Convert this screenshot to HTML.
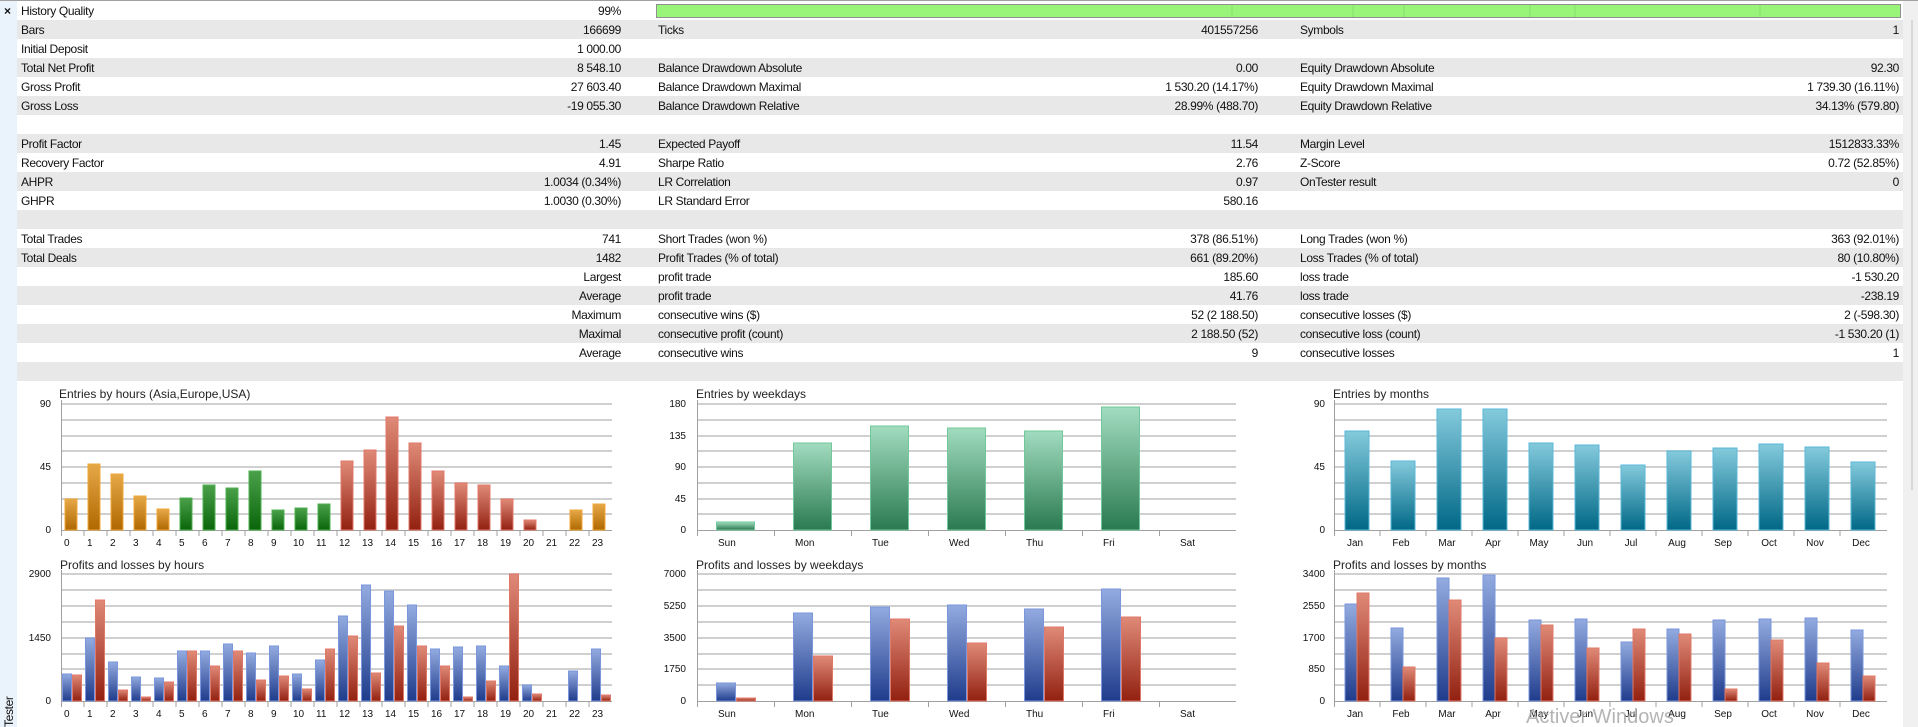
<!DOCTYPE html>
<html><head><meta charset="utf-8"><style>
html,body{margin:0;padding:0;background:#fff;width:1918px;height:727px;overflow:hidden}
svg{display:block}
text{font-family:"Liberation Sans",sans-serif;fill:#111}
.t{font-size:12px;letter-spacing:-0.35px}
.ax{font-size:10px;fill:#333}
.ti{font-size:12px;fill:#222}
</style></head><body>
<svg width="1918" height="727" viewBox="0 0 1918 727" xmlns="http://www.w3.org/2000/svg">
<defs>
<linearGradient id="gO" x1="0" y1="0" x2="0" y2="1"><stop offset="0" stop-color="#e6a848"/><stop offset="1" stop-color="#b06800"/></linearGradient>
<linearGradient id="gG" x1="0" y1="0" x2="0" y2="1"><stop offset="0" stop-color="#4aa04a"/><stop offset="1" stop-color="#0a660a"/></linearGradient>
<linearGradient id="gR" x1="0" y1="0" x2="0" y2="1"><stop offset="0" stop-color="#e08a78"/><stop offset="1" stop-color="#922010"/></linearGradient>
<linearGradient id="gB" x1="0" y1="0" x2="0" y2="1"><stop offset="0" stop-color="#93abe0"/><stop offset="1" stop-color="#1f3c8c"/></linearGradient>
<linearGradient id="gM" x1="0" y1="0" x2="0" y2="1"><stop offset="0" stop-color="#a2dcc0"/><stop offset="1" stop-color="#2a7a50"/></linearGradient>
<linearGradient id="gT" x1="0" y1="0" x2="0" y2="1"><stop offset="0" stop-color="#84cadc"/><stop offset="1" stop-color="#006886"/></linearGradient>
</defs>
<rect x="0" y="0" width="17" height="727" fill="#eaf2fb"/>
<rect x="1903" y="0" width="15" height="727" fill="#f0f0f0"/>
<line x1="1912" y1="20" x2="1912" y2="490" stroke="#c0c0c0"/>
<line x1="0" y1="0.5" x2="1918" y2="0.5" stroke="#a0a0a0"/>
<text x="4" y="15" class="t" style="font-weight:bold">×</text>
<text transform="translate(13,727) rotate(-90)" class="t">Tester</text>
<g fill="#e8e8e8">
<rect x="17" y="20" width="1886" height="19"/><rect x="17" y="58" width="1886" height="19"/><rect x="17" y="96" width="1886" height="19"/>
<rect x="17" y="134" width="1886" height="19"/><rect x="17" y="172" width="1886" height="19"/><rect x="17" y="210" width="1886" height="19"/>
<rect x="17" y="248" width="1886" height="19"/><rect x="17" y="286" width="1886" height="19"/><rect x="17" y="324" width="1886" height="19"/>
<rect x="17" y="362" width="1886" height="19"/>
</g>
<rect x="656.5" y="4.5" width="1244" height="13" fill="#98f57a" stroke="#909090"/>
<g stroke="#86dd6a"><line x1="1232" y1="5" x2="1232" y2="17"/><line x1="1353" y1="5" x2="1353" y2="17"/><line x1="1404" y1="5" x2="1404" y2="17"/><line x1="1530" y1="5" x2="1530" y2="17"/><line x1="1575" y1="5" x2="1575" y2="17"/><line x1="1760" y1="5" x2="1760" y2="17"/></g>
<g class="t">
<text x="21" y="15">History Quality</text><text x="621" y="15" text-anchor="end">99%</text>
<text x="21" y="34">Bars</text><text x="621" y="34" text-anchor="end">166699</text><text x="658" y="34">Ticks</text><text x="1258" y="34" text-anchor="end">401557256</text><text x="1300" y="34">Symbols</text><text x="1899" y="34" text-anchor="end">1</text>
<text x="21" y="53">Initial Deposit</text><text x="621" y="53" text-anchor="end">1 000.00</text>
<text x="21" y="72">Total Net Profit</text><text x="621" y="72" text-anchor="end">8 548.10</text><text x="658" y="72">Balance Drawdown Absolute</text><text x="1258" y="72" text-anchor="end">0.00</text><text x="1300" y="72">Equity Drawdown Absolute</text><text x="1899" y="72" text-anchor="end">92.30</text>
<text x="21" y="91">Gross Profit</text><text x="621" y="91" text-anchor="end">27 603.40</text><text x="658" y="91">Balance Drawdown Maximal</text><text x="1258" y="91" text-anchor="end">1 530.20 (14.17%)</text><text x="1300" y="91">Equity Drawdown Maximal</text><text x="1899" y="91" text-anchor="end">1 739.30 (16.11%)</text>
<text x="21" y="110">Gross Loss</text><text x="621" y="110" text-anchor="end">-19 055.30</text><text x="658" y="110">Balance Drawdown Relative</text><text x="1258" y="110" text-anchor="end">28.99% (488.70)</text><text x="1300" y="110">Equity Drawdown Relative</text><text x="1899" y="110" text-anchor="end">34.13% (579.80)</text>
<text x="21" y="148">Profit Factor</text><text x="621" y="148" text-anchor="end">1.45</text><text x="658" y="148">Expected Payoff</text><text x="1258" y="148" text-anchor="end">11.54</text><text x="1300" y="148">Margin Level</text><text x="1899" y="148" text-anchor="end">1512833.33%</text>
<text x="21" y="167">Recovery Factor</text><text x="621" y="167" text-anchor="end">4.91</text><text x="658" y="167">Sharpe Ratio</text><text x="1258" y="167" text-anchor="end">2.76</text><text x="1300" y="167">Z-Score</text><text x="1899" y="167" text-anchor="end">0.72 (52.85%)</text>
<text x="21" y="186">AHPR</text><text x="621" y="186" text-anchor="end">1.0034 (0.34%)</text><text x="658" y="186">LR Correlation</text><text x="1258" y="186" text-anchor="end">0.97</text><text x="1300" y="186">OnTester result</text><text x="1899" y="186" text-anchor="end">0</text>
<text x="21" y="205">GHPR</text><text x="621" y="205" text-anchor="end">1.0030 (0.30%)</text><text x="658" y="205">LR Standard Error</text><text x="1258" y="205" text-anchor="end">580.16</text>
<text x="21" y="243">Total Trades</text><text x="621" y="243" text-anchor="end">741</text><text x="658" y="243">Short Trades (won %)</text><text x="1258" y="243" text-anchor="end">378 (86.51%)</text><text x="1300" y="243">Long Trades (won %)</text><text x="1899" y="243" text-anchor="end">363 (92.01%)</text>
<text x="21" y="262">Total Deals</text><text x="621" y="262" text-anchor="end">1482</text><text x="658" y="262">Profit Trades (% of total)</text><text x="1258" y="262" text-anchor="end">661 (89.20%)</text><text x="1300" y="262">Loss Trades (% of total)</text><text x="1899" y="262" text-anchor="end">80 (10.80%)</text>
<text x="621" y="281" text-anchor="end">Largest</text><text x="658" y="281">profit trade</text><text x="1258" y="281" text-anchor="end">185.60</text><text x="1300" y="281">loss trade</text><text x="1899" y="281" text-anchor="end">-1 530.20</text>
<text x="621" y="300" text-anchor="end">Average</text><text x="658" y="300">profit trade</text><text x="1258" y="300" text-anchor="end">41.76</text><text x="1300" y="300">loss trade</text><text x="1899" y="300" text-anchor="end">-238.19</text>
<text x="621" y="319" text-anchor="end">Maximum</text><text x="658" y="319">consecutive wins ($)</text><text x="1258" y="319" text-anchor="end">52 (2 188.50)</text><text x="1300" y="319">consecutive losses ($)</text><text x="1899" y="319" text-anchor="end">2 (-598.30)</text>
<text x="621" y="338" text-anchor="end">Maximal</text><text x="658" y="338">consecutive profit (count)</text><text x="1258" y="338" text-anchor="end">2 188.50 (52)</text><text x="1300" y="338">consecutive loss (count)</text><text x="1899" y="338" text-anchor="end">-1 530.20 (1)</text>
<text x="621" y="357" text-anchor="end">Average</text><text x="658" y="357">consecutive wins</text><text x="1258" y="357" text-anchor="end">9</text><text x="1300" y="357">consecutive losses</text><text x="1899" y="357" text-anchor="end">1</text>
</g>

<g stroke="#d0d0d0" stroke-width="2">
<path d="M61 404H612M61 420H612M61 436H612M61 451H612M61 467H612M61 483H612M61 499H612M61 514H612"/>
<path d="M697 404H1236M697 420H1236M697 436H1236M697 451H1236M697 467H1236M697 483H1236M697 499H1236M697 514H1236"/>
<path d="M1334 404H1887M1334 420H1887M1334 436H1887M1334 451H1887M1334 467H1887M1334 483H1887M1334 499H1887M1334 514H1887"/>
<path d="M61 574H612M61 590H612M61 606H612M61 622H612M61 638H612M61 654H612M61 669H612M61 685H612"/>
<path d="M697 574H1236M697 590H1236M697 606H1236M697 622H1236M697 638H1236M697 654H1236M697 669H1236M697 685H1236"/>
<path d="M1334 574H1887M1334 590H1887M1334 606H1887M1334 622H1887M1334 638H1887M1334 654H1887M1334 669H1887M1334 685H1887"/>
</g>
<g stroke="#a0a0a0" stroke-width="1" fill="none">
<path d="M61.5 400V536M61 530.5H612M61.5 570V707M61 701.5H612"/>
<path d="M84 530v6M107 530v6M130 530v6M153 530v6M176 530v6M199 530v6M222 530v6M245 530v6M268 530v6M291 530v6M314 530v6M337 530v6M360 530v6M382 530v6M405 530v6M428 530v6M451 530v6M474 530v6M497 530v6M520 530v6M543 530v6M566 530v6M589 530v6"/>
<path d="M84 701v6M107 701v6M130 701v6M153 701v6M176 701v6M199 701v6M222 701v6M245 701v6M268 701v6M291 701v6M314 701v6M337 701v6M360 701v6M382 701v6M405 701v6M428 701v6M451 701v6M474 701v6M497 701v6M520 701v6M543 701v6M566 701v6M589 701v6"/>
<path d="M697.5 400V536M697 530.5H1236M697.5 570V707M697 701.5H1236"/>
<path d="M774.5 530v6M851.5 530v6M928.5 530v6M1005.5 530v6M1082.5 530v6M1159.5 530v6M774.5 701v6M851.5 701v6M928.5 701v6M1005.5 701v6M1082.5 701v6M1159.5 701v6"/>
<path d="M1334.5 400V536M1334 530.5H1887M1334.5 570V707M1334 701.5H1887"/>
<path d="M1380 530v6M1426 530v6M1472 530v6M1518 530v6M1564 530v6M1610 530v6M1656 530v6M1702 530v6M1748 530v6M1794 530v6M1840 530v6M1380 701v6M1426 701v6M1472 701v6M1518 701v6M1564 701v6M1610 701v6M1656 701v6M1702 701v6M1748 701v6M1794 701v6M1840 701v6"/>
</g>

<text x="59" y="398" class="ti">Entries by hours (Asia,Europe,USA)</text>
<text x="696" y="398" class="ti">Entries by weekdays</text>
<text x="1333" y="398" class="ti">Entries by months</text>
<text x="60" y="569" class="ti">Profits and losses by hours</text>
<text x="696" y="569" class="ti">Profits and losses by weekdays</text>
<text x="1333" y="569" class="ti">Profits and losses by months</text>

<g class="ax" text-anchor="end">
<text x="51" y="407">90</text><text x="51" y="470">45</text><text x="51" y="533">0</text>
<text x="51" y="577">2900</text><text x="51" y="641">1450</text><text x="51" y="704">0</text>
<text x="686" y="407">180</text><text x="686" y="439">135</text><text x="686" y="470">90</text><text x="686" y="502">45</text><text x="686" y="533">0</text>
<text x="686" y="577">7000</text><text x="686" y="609">5250</text><text x="686" y="641">3500</text><text x="686" y="672">1750</text><text x="686" y="704">0</text>
<text x="1325" y="407">90</text><text x="1325" y="470">45</text><text x="1325" y="533">0</text>
<text x="1325" y="577">3400</text><text x="1325" y="609">2550</text><text x="1325" y="641">1700</text><text x="1325" y="672">850</text><text x="1325" y="704">0</text>
</g>

<g class="ax">
<text x="64" y="546">0</text><text x="87" y="546">1</text><text x="110" y="546">2</text><text x="133" y="546">3</text><text x="156" y="546">4</text><text x="179" y="546">5</text><text x="202" y="546">6</text><text x="225" y="546">7</text><text x="248" y="546">8</text><text x="271" y="546">9</text><text x="293" y="546">10</text><text x="316" y="546">11</text><text x="339" y="546">12</text><text x="362" y="546">13</text><text x="385" y="546">14</text><text x="408" y="546">15</text><text x="431" y="546">16</text><text x="454" y="546">17</text><text x="477" y="546">18</text><text x="500" y="546">19</text><text x="523" y="546">20</text><text x="546" y="546">21</text><text x="569" y="546">22</text><text x="592" y="546">23</text>
<text x="64" y="717">0</text><text x="87" y="717">1</text><text x="110" y="717">2</text><text x="133" y="717">3</text><text x="156" y="717">4</text><text x="179" y="717">5</text><text x="202" y="717">6</text><text x="225" y="717">7</text><text x="248" y="717">8</text><text x="271" y="717">9</text><text x="293" y="717">10</text><text x="316" y="717">11</text><text x="339" y="717">12</text><text x="362" y="717">13</text><text x="385" y="717">14</text><text x="408" y="717">15</text><text x="431" y="717">16</text><text x="454" y="717">17</text><text x="477" y="717">18</text><text x="500" y="717">19</text><text x="523" y="717">20</text><text x="546" y="717">21</text><text x="569" y="717">22</text><text x="592" y="717">23</text>
</g>
<g class="ax">
<text x="718" y="546">Sun</text><text x="795" y="546">Mon</text><text x="872" y="546">Tue</text><text x="949" y="546">Wed</text><text x="1026" y="546">Thu</text><text x="1103" y="546">Fri</text><text x="1180" y="546">Sat</text>
<text x="718" y="717">Sun</text><text x="795" y="717">Mon</text><text x="872" y="717">Tue</text><text x="949" y="717">Wed</text><text x="1026" y="717">Thu</text><text x="1103" y="717">Fri</text><text x="1180" y="717">Sat</text>
</g>
<g class="ax" text-anchor="middle">
<text x="1355" y="546">Jan</text><text x="1401" y="546">Feb</text><text x="1447" y="546">Mar</text><text x="1493" y="546">Apr</text><text x="1539" y="546">May</text><text x="1585" y="546">Jun</text><text x="1631" y="546">Jul</text><text x="1677" y="546">Aug</text><text x="1723" y="546">Sep</text><text x="1769" y="546">Oct</text><text x="1815" y="546">Nov</text><text x="1861" y="546">Dec</text>
<text x="1355" y="717">Jan</text><text x="1401" y="717">Feb</text><text x="1447" y="717">Mar</text><text x="1493" y="717">Apr</text><text x="1539" y="717">May</text><text x="1585" y="717">Jun</text><text x="1631" y="717">Jul</text><text x="1677" y="717">Aug</text><text x="1723" y="717">Sep</text><text x="1769" y="717">Oct</text><text x="1815" y="717">Nov</text><text x="1861" y="717">Dec</text>
</g>

<g fill="url(#gO)" stroke="#f0a838">
<rect x="65" y="499" width="12" height="31"/><rect x="88" y="464" width="12" height="66"/><rect x="111" y="474" width="12" height="56"/><rect x="134" y="496" width="12" height="34"/><rect x="157" y="509" width="12" height="21"/><rect x="570" y="510" width="12" height="20"/><rect x="593" y="504" width="12" height="26"/>
</g>
<g fill="url(#gG)" stroke="#50b050">
<rect x="180" y="498" width="12" height="32"/><rect x="203" y="485" width="12" height="45"/><rect x="226" y="488" width="12" height="42"/><rect x="249" y="471" width="12" height="59"/><rect x="272" y="510" width="12" height="20"/><rect x="295" y="508" width="12" height="22"/><rect x="318" y="504" width="12" height="26"/>
</g>
<g fill="url(#gR)" stroke="#e07868">
<rect x="341" y="461" width="12" height="69"/><rect x="364" y="450" width="12" height="80"/><rect x="386" y="417" width="12" height="113"/><rect x="409" y="443" width="12" height="87"/><rect x="432" y="471" width="12" height="59"/><rect x="455" y="483" width="12" height="47"/><rect x="478" y="485" width="12" height="45"/><rect x="501" y="499" width="12" height="31"/><rect x="524" y="520" width="12" height="10"/>
</g>

<g fill="url(#gB)" stroke="#7a96dc">
<rect x="62.5" y="674" width="9" height="27"/><rect x="85.5" y="638" width="9" height="63"/><rect x="108.5" y="662" width="9" height="39"/><rect x="131.5" y="677" width="9" height="24"/><rect x="154.5" y="678" width="9" height="23"/><rect x="177.5" y="651" width="9" height="50"/><rect x="200.5" y="651" width="9" height="50"/><rect x="223.5" y="644" width="9" height="57"/><rect x="246.5" y="653" width="9" height="48"/><rect x="269.5" y="646" width="9" height="55"/><rect x="292.5" y="674" width="9" height="27"/><rect x="315.5" y="660" width="9" height="41"/><rect x="338.5" y="616" width="9" height="85"/><rect x="361.5" y="585" width="9" height="116"/><rect x="384.5" y="591" width="9" height="110"/><rect x="407.5" y="605" width="9" height="96"/><rect x="430.5" y="649" width="9" height="52"/><rect x="453.5" y="647" width="9" height="54"/><rect x="476.5" y="646" width="9" height="55"/><rect x="499.5" y="666" width="9" height="35"/><rect x="522.5" y="685" width="9" height="16"/><rect x="568.5" y="671" width="9" height="30"/><rect x="591.5" y="649" width="9" height="52"/>
</g>
<g fill="url(#gR)" stroke="#e07868">
<rect x="72.5" y="675" width="9" height="26"/><rect x="95.5" y="600" width="9" height="101"/><rect x="118.5" y="690" width="9" height="11"/><rect x="141.5" y="697" width="9" height="4"/><rect x="164.5" y="682" width="9" height="19"/><rect x="187.5" y="651" width="9" height="50"/><rect x="210.5" y="666" width="9" height="35"/><rect x="233.5" y="651" width="9" height="50"/><rect x="256.5" y="680" width="9" height="21"/><rect x="279.5" y="676" width="9" height="25"/><rect x="302.5" y="689" width="9" height="12"/><rect x="325.5" y="649" width="9" height="52"/><rect x="348.5" y="636" width="9" height="65"/><rect x="371.5" y="673" width="9" height="28"/><rect x="394.5" y="626" width="9" height="75"/><rect x="417.5" y="646" width="9" height="55"/><rect x="440.5" y="666" width="9" height="35"/><rect x="463.5" y="697" width="9" height="4"/><rect x="486.5" y="681" width="9" height="20"/><rect x="509.5" y="574" width="9" height="127"/><rect x="532.5" y="694" width="9" height="7"/><rect x="601.5" y="695" width="9" height="6"/>
</g>

<g fill="url(#gM)" stroke="#72c89a">
<rect x="716.5" y="522" width="38" height="8"/><rect x="793.5" y="443" width="38" height="87"/><rect x="870.5" y="426" width="38" height="104"/><rect x="947.5" y="428" width="38" height="102"/><rect x="1024.5" y="431" width="38" height="99"/><rect x="1101.5" y="407" width="38" height="123"/>
</g>
<g fill="url(#gB)" stroke="#7a96dc">
<rect x="716.5" y="683" width="19" height="18"/><rect x="793.5" y="613" width="19" height="88"/><rect x="870.5" y="607" width="19" height="94"/><rect x="947.5" y="605" width="19" height="96"/><rect x="1024.5" y="609" width="19" height="92"/><rect x="1101.5" y="589" width="19" height="112"/>
</g>
<g fill="url(#gR)" stroke="#e07868">
<rect x="736.5" y="698" width="19" height="3"/><rect x="813.5" y="656" width="19" height="45"/><rect x="890.5" y="619" width="19" height="82"/><rect x="967.5" y="643" width="19" height="58"/><rect x="1044.5" y="627" width="19" height="74"/><rect x="1121.5" y="617" width="19" height="84"/>
</g>

<g fill="url(#gT)" stroke="#5ab8d8">
<rect x="1345" y="431" width="24" height="99"/><rect x="1391" y="461" width="24" height="69"/><rect x="1437" y="409" width="24" height="121"/><rect x="1483" y="409" width="24" height="121"/><rect x="1529" y="443" width="24" height="87"/><rect x="1575" y="445" width="24" height="85"/><rect x="1621" y="465" width="24" height="65"/><rect x="1667" y="451" width="24" height="79"/><rect x="1713" y="448" width="24" height="82"/><rect x="1759" y="444" width="24" height="86"/><rect x="1805" y="447" width="24" height="83"/><rect x="1851" y="462" width="24" height="68"/>
</g>
<g fill="url(#gB)" stroke="#7a96dc">
<rect x="1345" y="604" width="12" height="97"/><rect x="1391" y="628" width="12" height="73"/><rect x="1437" y="578" width="12" height="123"/><rect x="1483" y="575" width="12" height="126"/><rect x="1529" y="620" width="12" height="81"/><rect x="1575" y="619" width="12" height="82"/><rect x="1621" y="642" width="12" height="59"/><rect x="1667" y="629" width="12" height="72"/><rect x="1713" y="620" width="12" height="81"/><rect x="1759" y="619" width="12" height="82"/><rect x="1805" y="618" width="12" height="83"/><rect x="1851" y="630" width="12" height="71"/>
</g>
<g fill="url(#gR)" stroke="#e07868">
<rect x="1357" y="593" width="12" height="108"/><rect x="1403" y="667" width="12" height="34"/><rect x="1449" y="600" width="12" height="101"/><rect x="1495" y="638" width="12" height="63"/><rect x="1541" y="625" width="12" height="76"/><rect x="1587" y="648" width="12" height="53"/><rect x="1633" y="629" width="12" height="72"/><rect x="1679" y="634" width="12" height="67"/><rect x="1725" y="689" width="12" height="12"/><rect x="1771" y="640" width="12" height="61"/><rect x="1817" y="663" width="12" height="38"/><rect x="1863" y="676" width="12" height="25"/>
</g>
<text x="1526" y="723" style="font-size:20px;fill:#a8a8a8;opacity:0.85">Activer Windows</text>
</svg>
</body></html>
